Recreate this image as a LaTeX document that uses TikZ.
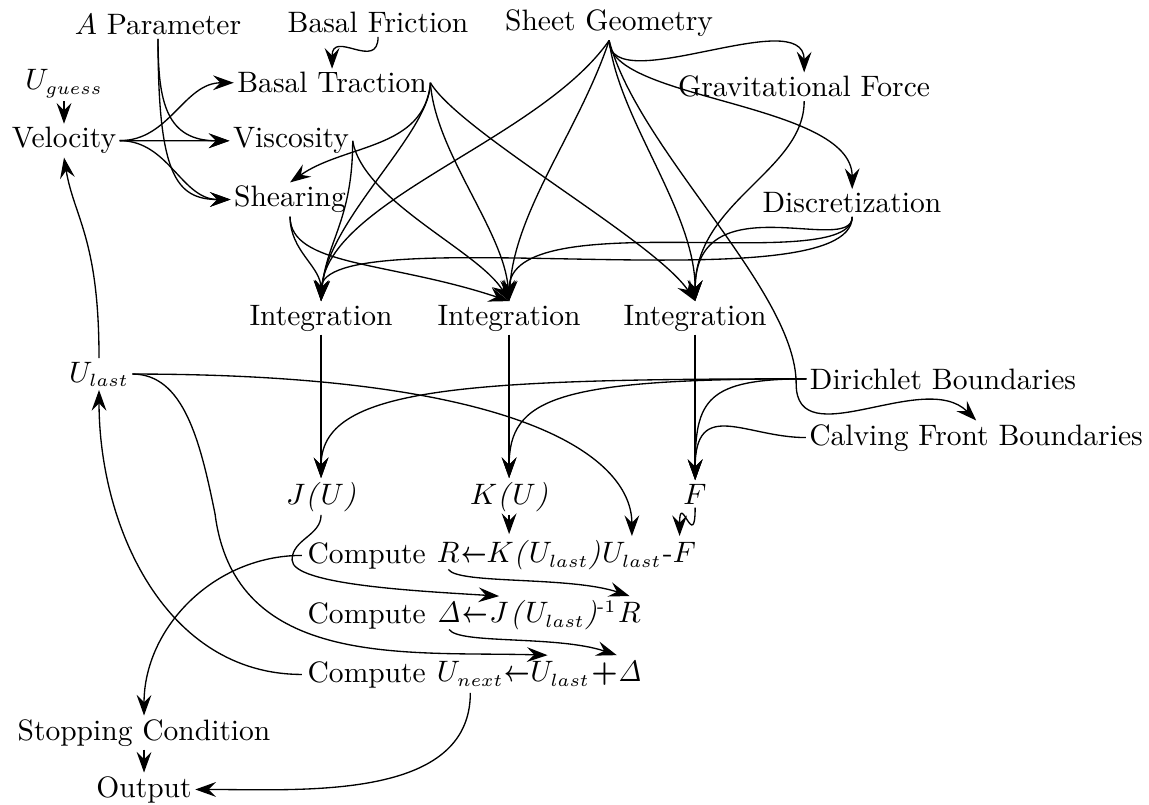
\documentclass[tikz,border=0pt]{standalone}
\usepackage{graphicx}
\usetikzlibrary{arrows.meta,positioning}
\DeclareMathSizes{10}{10}{6}{5}
\begin{document}
\begin{tikzpicture}[scale=1.19, line width=0.45pt,
    >={Stealth[length=7pt,width=5pt,inset=2.5pt]},
    lbl/.style={inner sep=1pt, anchor=base},
    part/.style={inner xsep=0pt, inner ysep=2pt, anchor=base west}]
  \useasboundingbox (0,0) rectangle (11.490,8.040);
  \node[lbl] (apar) at (1.580,7.690) {$A$ Parameter};
  \node[lbl] (bfric) at (3.780,7.710) {Basal Friction};
  \node[lbl] (sheet) at (6.090,7.730) {Sheet Geometry};
  \node[lbl] (uguess) at (0.640,7.140) {$U_{guess}$};
  \node[lbl] (btrac) at (3.320,7.110) {Basal Traction};
  \node[lbl] (grav) at (8.040,7.070) {Gravitational Force};
  \node[lbl] (velo) at (0.640,6.560) {Velocity};
  \node[lbl] (visc) at (2.910,6.560) {Viscosity};
  \node[lbl] (shear) at (2.900,5.970) {Shearing};
  \node[lbl] (disc) at (8.520,5.910) {Discretization};
  \node[lbl] (int1) at (3.210,4.790) {Integration};
  \node[lbl] (int2) at (5.090,4.790) {Integration};
  \node[lbl] (int3) at (6.950,4.790) {Integration};
  \node[lbl] (ulast) at (0.990,4.220) {$U_{last}$};
  \node[lbl] (dir) at (9.430,4.150) {Dirichlet Boundaries};
  \node[lbl] (calv) at (9.760,3.590) {Calving Front Boundaries};
  \node[lbl] (ju) at (3.210,3.000) {$J$\textit{(}$U$\textit{)}};
  \node[lbl] (ku) at (5.090,3.000) {$K$\textit{(}$U$\textit{)}};
  \node[lbl] (f) at (6.950,3.000) {$F$};
  \node[part] (crC) at (3.070,2.410) {Compute};
  \node[part, base right=3.3pt of crC] (crR) {$R$};
  \node[part, base right=0pt of crR] (crK) {\scalebox{0.75}[1]{\boldmath$\leftarrow$}$K$\textit{(}$U_{last}$\textit{)}};
  \node[part, base right=0pt of crK] (crU) {$U_{last}$};
  \node[part, base right=0pt of crU] (crF) {-$F$};
  \node[part] (cdC) at (3.070,1.810) {Compute};
  \node[part, base right=3.3pt of cdC] (cdD) {$\mathit{\Delta}$};
  \node[part, base right=0pt of cdD] (cdA) {\scalebox{0.75}[1]{\boldmath$\leftarrow$}};
  \node[part, base right=0pt of cdA] (cdJ) {$J$};
  \node[part, base right=0pt of cdJ] (cdP) {\textit{(}$U_{last}$\textit{)}\textsuperscript{-1}};
  \node[part, base right=0pt of cdP] (cdR) {$R$};
  \node[part] (cuC) at (3.070,1.220) {Compute};
  \node[part, base right=3.3pt of cuC] (cuN) {$U_{next}$};
  \node[part, base right=0pt of cuN] (cuL) {\scalebox{0.75}[1]{\boldmath$\leftarrow$}$U_{last}$};
  \node[part, base right=0pt of cuL] (cuD) {{\boldmath$+$}$\mathit{\Delta}$};
  \node[lbl] (stop) at (1.440,0.640) {Stopping Condition};
  \node[lbl] (outp) at (1.440,0.070) {Output};
  \coordinate (calvbend) at (7.960,4.200);
  \coordinate (ulbend) at (2.150,2.900);
  \coordinate (jbend) at (2.920,2.440);

  \draw[->] (uguess.south) -- (velo.north);
  \draw[->] (velo.east) to[out=0,in=180] (btrac.west);
  \draw[->] (velo.east) -- (visc.west);
  \draw[->] (velo.east) to[out=0,in=180] (shear.west);
  \draw[->] (apar.south) to[out=-90,in=180,looseness=1.3] (visc.west);
  \draw[->] (apar.south) .. controls +(0,-1.35) and +(-0.55,0) .. (shear.west);
  \draw[->] (bfric.south) .. controls +(0,-0.35) and +(0,0.4) .. (btrac.north);
  \draw[->] (sheet.south) .. controls +(0,-0.6) and +(0,0.7) .. (grav.north);
  \draw[->] (sheet.south) .. controls +(0,-0.6) and +(0,0.87) .. (disc.north);
  \draw[->] (sheet.south) .. controls +(-0.7,-1.0) and +(0.05,1.0) .. (int1.north);
  \draw[->] (sheet.south) .. controls +(-0.3,-0.9) and +(0.05,0.9) .. (int2.north);
  \draw[->] (sheet.south) .. controls +(0.1,-0.8) and +(0,0.9) .. (int3.north);
  \draw[->] (sheet.south) .. controls +(0.29,-1.1) and +(0,0.94) .. (calvbend)
    .. controls +(0,-0.73) and +(-0.52,0.52) .. (calv.north);
  \draw[->] (grav.south) .. controls +(0,-0.7) and +(0,1.0) .. (int3.north);
  \draw[->] (btrac.east) to[out=-95,in=35] (shear.north);
  \draw[->] (btrac.east) .. controls +(0,-0.5) and +(0.05,0.8) .. (int1.north);
  \draw[->] (btrac.east) .. controls +(0.05,-0.7) and +(-0.05,0.7) .. (int2.north);
  \draw[->] (btrac.east) .. controls +(0.3,-0.5) and +(-0.4,0.6) .. (int3.north);
  \draw[->] (visc.east) .. controls +(0,-0.8) and +(0.05,0.6) .. (int1.north);
  \draw[->] (visc.east) .. controls +(0.1,-0.6) and +(-0.3,0.5) .. (int2.north);
  \draw[->] (shear.south) to[out=-90,in=90] (int1.north);
  \draw[->] (shear.south) .. controls +(0,-0.5) and +(-1.2,0.4) .. (int2.north);
  \draw[->] (disc.south) .. controls +(0,-0.4) and +(0,1.2) .. (int3.north);
  \draw[->] (disc.south) .. controls +(0,-0.6) and +(0,1.0) .. (int2.north);
  \draw[->] (disc.south) .. controls +(0,-0.9) and +(0,0.85) .. (int1.north);

  \draw[->] (int1.south) -- (ju.north);
  \draw[->] (int2.south) -- (ku.north);
  \draw[->] (int3.south) -- (f.north);
  \draw[->] (dir.west) .. controls +(-3.5,0) and +(0,0.9) .. (ju.north);
  \draw[->] (dir.west) .. controls +(-2.5,0) and +(0,0.8) .. (ku.north);
  \draw[->] (dir.west) .. controls +(-1.0,0) and +(0,0.8) .. (f.north);
  \draw[->] (calv.west) .. controls +(-0.6,0) and +(0,0.83) .. (f.north);

  \draw[->] (ulast.north) .. controls +(0,1.2) and +(0.1,-0.6) .. (velo.south);
  \draw[->] (ulast.east) .. controls +(4.0,0) and +(0,0.75) .. (crU.north);
  \draw[->] (ulast.east) .. controls +(0.51,0) and +(-0.15,0.74) .. (ulbend)
    .. controls +(0.2,-1.56) and +(-1.4,0.04) .. (cuL.north);
  \draw[->] (ju.south) to[out=-90,in=90] (jbend)
    .. controls +(0,-0.25) and +(-0.8,0.05) .. (cdJ.north);
  \draw[->] (ku.south) -- (ku.south |- crK.north);
  \draw[->] (f.south) .. controls +(0,-0.46) and +(0,0.46) .. (crF.north);
  \draw[->] (crR.south) .. controls +(0.1,-0.15) and +(-0.6,0.2) .. (cdR.north);
  \draw[->] (cdD.south) .. controls +(0.1,-0.15) and +(-0.6,0.2) .. (cuD.north);
  \draw[->] ([xshift=-1.5pt]crC.west) to[out=180,in=90] (stop.north);
  \draw[->] ([xshift=-1.5pt]cuC.west) to[out=180,in=-90] (ulast.south);
  \draw[->] (cuN.south) .. controls +(0,-1.08) and +(1.07,0) .. (outp.east);
  \draw[->] (stop.south) -- (outp.north);
\end{tikzpicture}
\end{document}
